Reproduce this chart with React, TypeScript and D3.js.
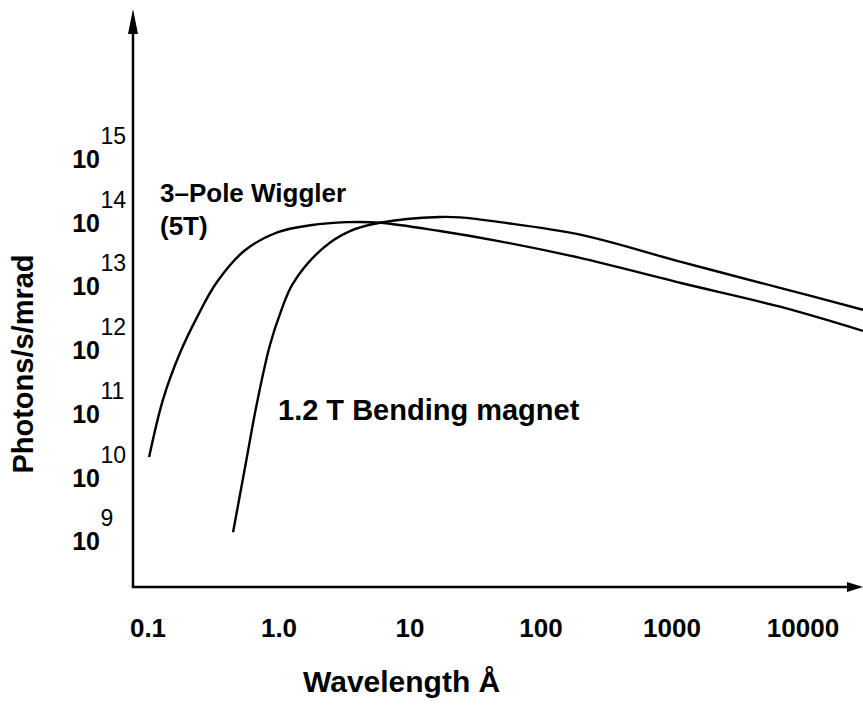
import React from "react";
import * as d3 from "d3";

const W = 863;
const H = 709;

// Wavelength (Å) and flux (photons/s/mrad)
const wigglerWavelength = [0.102, 0.13, 0.175, 0.237, 0.336, 0.55, 0.982, 1.73, 3.3, 5.9, 16.9, 48.6, 199, 1192, 6670, 28700];
const wigglerFlux = [2.1e10, 1.66e11, 8.9e11, 3.3e12, 1.17e13, 3.7e13, 7.1e13, 9.1e13, 1.02e14, 1.0e14, 7.4e13, 5.1e13, 2.8e13, 1.12e13, 4.8e12, 2.0e12];

const bendWavelength = [0.446, 0.56, 0.679, 0.853, 1.036, 1.28, 2.17, 3.48, 5.9, 16.9, 24.1, 48.6, 199, 1192, 6670, 28700];
const bendFlux = [1.38e9, 1.75e10, 1.48e11, 1.2e12, 4.1e12, 1.12e13, 4.0e13, 7.4e13, 1.0e14, 1.23e14, 1.21e14, 1.02e14, 6.5e13, 2.4e13, 9.5e12, 4.3e12];

const xTickValues = [0.1, 1, 10, 100, 1000, 10000];
const xTickLabels = ["0.1", "1.0", "10", "100", "1000", "10000"];
const yTickExponents = [15, 14, 13, 12, 11, 10, 9];

const FONT = "'Liberation Sans', Arial, Helvetica, sans-serif";

export default function App() {
  const axisX = 133;
  const axisY = 587;

  const x = d3.scaleLog().domain([0.1, 10000]).range([148, 148 + 5 * 131]);
  const y = d3.scaleLog().domain([1e9, 1e15]).range([159 + 6 * 63.7, 159]);

  const line = d3
    .line<[number, number]>()
    .x((d) => x(d[0]))
    .y((d) => y(d[1]))
    .curve(d3.curveCatmullRom.alpha(0.5));

  const wiggler: [number, number][] = wigglerWavelength.map((w, i) => [w, wigglerFlux[i]]);
  const bend: [number, number][] = bendWavelength.map((w, i) => [w, bendFlux[i]]);

  return (
    <svg
      width={W}
      height={H}
      style={{ position: "absolute", left: 0, top: 0, background: "#fff" }}
      fontFamily={FONT}
    >
      <rect x={0} y={0} width={W} height={H} fill="#fff" />
      {/* axes */}
      <line x1={axisX} y1={axisY} x2={axisX} y2={30} stroke="#000" strokeWidth={2.5} />
      <path d={`M${axisX},9 L${axisX - 5},34 L${axisX + 5},34 Z`} fill="#000" />
      <line x1={axisX - 1.2} y1={axisY} x2={850} y2={axisY} stroke="#000" strokeWidth={2.5} />
      <path d={`M${W},${axisY} L${W - 16},${axisY - 5} L${W - 16},${axisY + 5} Z`} fill="#000" />

      {/* curves */}
      <path d={line(wiggler) || ""} fill="none" stroke="#000" strokeWidth={2.4} />
      <path d={line(bend) || ""} fill="none" stroke="#000" strokeWidth={2.4} />

      {/* x tick labels */}
      {xTickValues.map((v, i) => (
        <text key={v} x={x(v)} y={637} textAnchor="middle" fontSize={26} fontWeight="bold">
          {xTickLabels[i]}
        </text>
      ))}

      {/* y tick labels */}
      {yTickExponents.map((e) => {
        const yy = y(Math.pow(10, e));
        return (
          <g key={e}>
            <text x={100} y={yy + 9} textAnchor="end" fontSize={25} fontWeight="bold">
              10
            </text>
            <text x={100.5} y={yy - 15} textAnchor="start" fontSize={23}>
              {e}
            </text>
          </g>
        );
      })}

      {/* axis titles */}
      <text x={303} y={692} fontSize={30} fontWeight="bold">
        Wavelength Å
      </text>
      <text
        transform={`translate(33,364) rotate(-90)`}
        textAnchor="middle"
        fontSize={29}
        fontWeight="bold"
      >
        Photons/s/mrad
      </text>

      {/* annotations */}
      <text x={160} y={202} fontSize={26} fontWeight="bold">
        3–Pole Wiggler
      </text>
      <text x={160} y={235} fontSize={26} fontWeight="bold">
        (5T)
      </text>
      <text x={278} y={420} fontSize={29} fontWeight="bold">
        1.2 T Bending magnet
      </text>
    </svg>
  );
}
